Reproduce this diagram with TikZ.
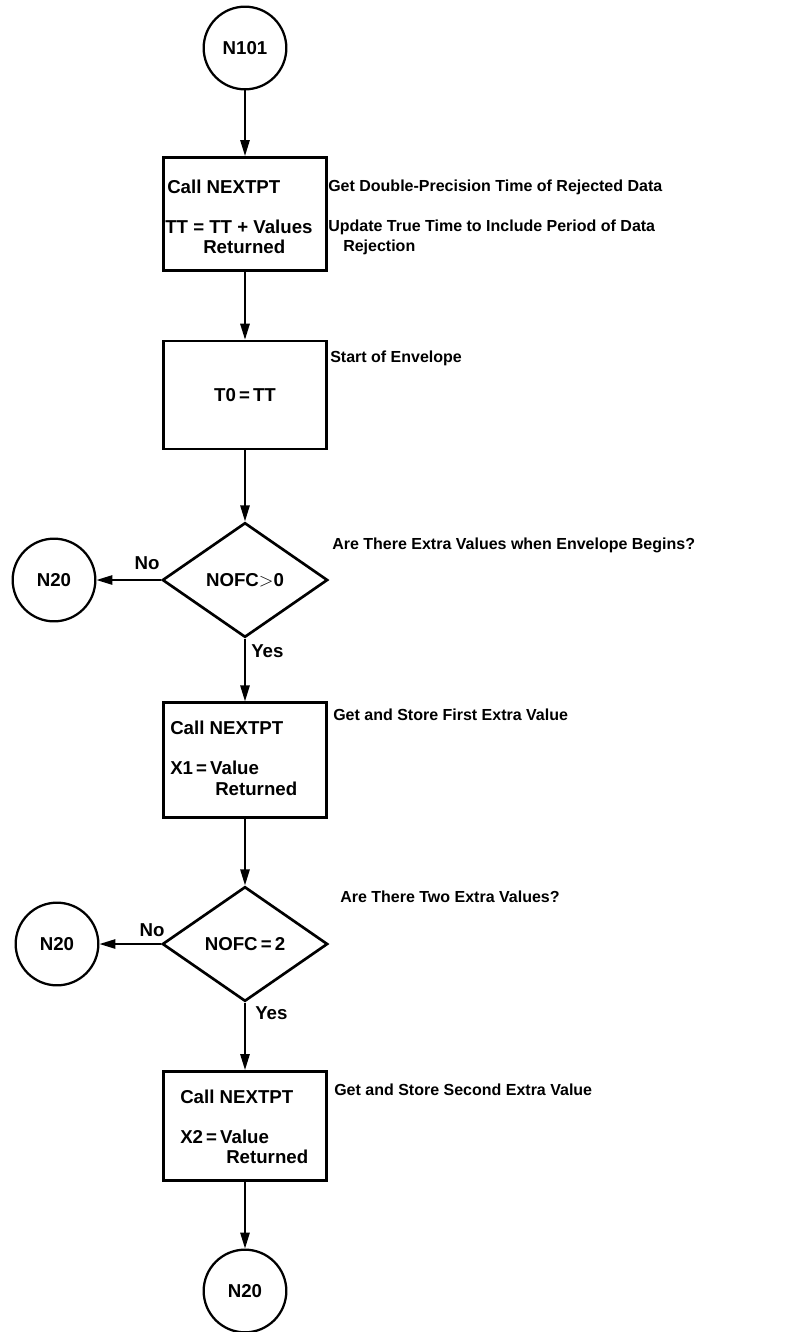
\documentclass[tikz,border=0pt]{standalone}
\usepackage{fontspec}
\setmainfont{Liberation Sans}
\usetikzlibrary{shapes,arrows,positioning,calc,arrows.meta}

\begin{document}
\begin{tikzpicture}[x=0.75pt,y=-0.75pt,
    font=\bfseries\fontsize{14}{16}\selectfont,
    proc/.style={draw,line width=2pt,minimum width=122pt,inner sep=0pt},
    test/.style={draw,diamond,line width=2pt,minimum width=124pt,minimum height=86pt,inner sep=0pt,aspect=1.45},
    conn/.style={draw,circle,line width=1.7pt,minimum size=62pt,inner sep=0pt},
    flow/.style={line width=1.4pt,-{Triangle[length=12pt,width=7pt]}},
    txt/.style={anchor=west,inner sep=0pt},
    note/.style={anchor=west,inner sep=0pt,font=\bfseries\fontsize{12}{14}\selectfont}]
    \useasboundingbox (0,0) rectangle (787,1332);
    % Entry
    \node[conn] (n101) at (245,48) {N101};
    % First call
    \node[proc,minimum height=85pt] (call1) at (245,214) {};
    \node[txt] (c1a) at (167,187) {Call NEXTPT};
    \node[txt] (c1b) at (165,227) {TT\;=\;TT\;+\;Values};
    \node[txt] (c1c) at (203,247) {Returned};
    \node[note] (r1a) at (328,187) {Get Double-Precision Time of Rejected Data};
    \node[note] (r1b) at (328,227) {Update True Time to Include Period of Data};
    \node[note] (r1c) at (343,247) {Rejection};
    % Start of envelope
    \node[proc,minimum height=81pt] (set0) at (245,395) {T0\,=\,TT};
    \node[note] (r2) at (330,358) {Start of Envelope};
    % First test
    \node[test] (test1) at (245,580) {NOFC$>$0};
    \node[note] (r3) at (332,545) {Are There Extra Values when Envelope Begins?};
    \node[conn] (n20a) at (54,580) {N20};
    \node (no1) at (147,563) {No};
    \node[txt] (yes1) at (251,651) {Yes};
    % Second call
    \node[proc,minimum height=86pt] (call2) at (245,760) {};
    \node[txt] (c2a) at (170,728) {Call NEXTPT};
    \node[txt] (c2b) at (170,768) {X1\,=\,Value};
    \node[txt] (c2c) at (215,789) {Returned};
    \node[note] (r4) at (333,715) {Get and Store First Extra Value};
    % Second test
    \node[test] (test2) at (245,944) {NOFC\,=\,2};
    \node[note] (r5) at (340,897) {Are There Two Extra Values?};
    \node[conn] (n20b) at (57,944) {N20};
    \node (no2) at (152,930) {No};
    \node[txt] (yes2) at (255,1013) {Yes};
    % Third call
    \node[proc,minimum height=82pt] (call3) at (245,1126) {};
    \node[txt] (c3a) at (180,1097) {Call NEXTPT};
    \node[txt] (c3b) at (180,1137) {X2\,=\,Value};
    \node[txt] (c3c) at (226,1157) {Returned};
    \node[note] (r6) at (334,1090) {Get and Store Second Extra Value};
    % Exit
    \node[conn] (n20c) at (245,1291) {N20};
    % Flow lines
    \draw[flow] (n101) -- (call1);
    \draw[flow] (call1) -- (set0);
    \draw[flow] (set0) -- (test1);
    \draw[flow] (test1.west) -- (n20a);
    \draw[flow] (test1) -- (call2);
    \draw[flow] (call2) -- (test2);
    \draw[flow] (test2.west) -- (n20b);
    \draw[flow] (test2) -- (call3);
    \draw[flow] (call3) -- (n20c);
\end{tikzpicture}
\end{document}
